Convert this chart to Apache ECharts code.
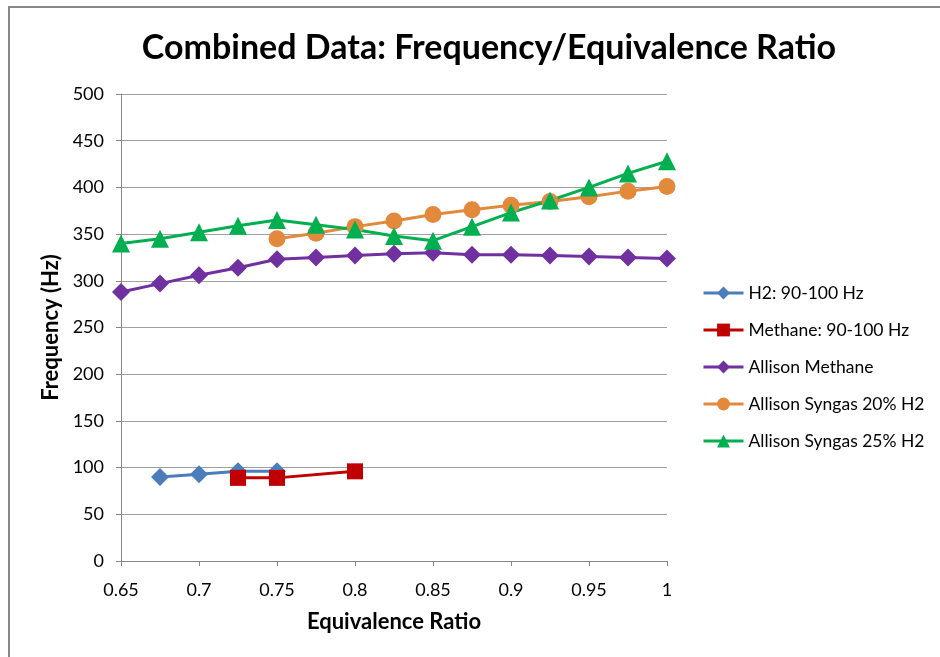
<!DOCTYPE html>
<html>
<head>
<meta charset="utf-8">
<script src="https://cdn.jsdelivr.net/npm/echarts@6/dist/echarts.min.js"></script>
<style>
  html, body { margin: 0; padding: 0; background: #fff; }
  #main { width: 940px; height: 657px; }
</style>
</head>
<body>
<div id="main"></div>
<script>
// data
var h2X = [0.675, 0.7, 0.725, 0.75];
var h2Y = [90, 93, 96, 96];

var methX = [0.725, 0.75, 0.8];
var methY = [89, 89, 96];

var allisonX = [0.65, 0.675, 0.7, 0.725, 0.75, 0.775, 0.8, 0.825, 0.85, 0.875, 0.9, 0.925, 0.95, 0.975, 1];
var allisonMethY = [288, 297, 306, 314, 323, 325, 327, 329, 330, 328, 328, 327, 326, 325, 324];

var syn20X = [0.75, 0.775, 0.8, 0.825, 0.85, 0.875, 0.9, 0.925, 0.95, 0.975, 1];
var syn20Y = [345, 351, 358, 364, 371, 376, 381, 385, 390, 396, 401];

var syn25Y = [340, 345, 352, 359, 365, 360, 355, 348, 343, 358, 373, 386, 400, 415, 428];

var seriesNames = ['H2: 90-100 Hz', 'Methane: 90-100 Hz', 'Allison Methane', 'Allison Syngas 20% H2', 'Allison Syngas 25% H2'];

function pairs(xs, ys) {
    return xs.map(function (x, i) { return [x, ys[i]]; });
}

var font = 'Lato, "Liberation Sans", sans-serif';

function lineSeries(name, data, color, symbol, size) {
    return {
        name: name,
        type: 'line',
        data: data,
        symbol: symbol,
        symbolSize: size,
        lineStyle: { color: color, width: 3 },
        itemStyle: { color: color },
        emphasis: { disabled: true }
    };
}

var chart = echarts.init(document.getElementById('main'));
chart.setOption({
    animation: false,
    backgroundColor: '#fff',
    title: {
        text: 'Combined Data: Frequency/Equivalence Ratio',
        left: 484,
        textAlign: 'center',
        top: 26,
        textStyle: { fontFamily: font, fontSize: 34, fontWeight: 'bold', color: '#000' }
    },
    graphic: [{
        type: 'rect',
        shape: { x: 9, y: 7, width: 1000, height: 1000 },
        style: { fill: 'none', stroke: '#878787', lineWidth: 2 },
        silent: true
    }],
    legend: {
        orient: 'vertical',
        left: 702,
        top: 284,
        padding: 0,
        itemWidth: 40,
        itemHeight: 16,
        itemGap: 19,
        data: seriesNames,
        lineStyle: { width: 3 },
        textStyle: { fontFamily: font, fontSize: 17.5, lineHeight: 18, color: '#000' }
    },
    grid: { left: 121, top: 94, right: 273, bottom: 96 },
    xAxis: {
        type: 'value',
        min: 0.65,
        max: 1,
        interval: 0.05,
        name: 'Equivalence Ratio',
        nameLocation: 'middle',
        nameGap: 50,
        nameTextStyle: { fontFamily: font, fontSize: 22, fontWeight: 'bold', color: '#000' },
        axisLine: { lineStyle: { color: '#868686', width: 1 } },
        axisTick: { show: true, length: 5, lineStyle: { color: '#868686' } },
        axisLabel: { fontFamily: font, fontSize: 18, color: '#000', margin: 20 },
        splitLine: { show: false }
    },
    yAxis: {
        type: 'value',
        min: 0,
        max: 500,
        interval: 50,
        name: 'Frequency (Hz)',
        nameLocation: 'middle',
        nameGap: 55,
        nameTextStyle: { fontFamily: font, fontSize: 22, fontWeight: 'bold', color: '#000' },
        axisLine: { show: true, lineStyle: { color: '#868686', width: 1 } },
        axisTick: { show: true, length: 5, lineStyle: { color: '#868686' } },
        axisLabel: { fontFamily: font, fontSize: 18, color: '#000', margin: 17 },
        splitLine: { lineStyle: { color: '#a0a0a0', width: 1 } }
    },
    series: [
        lineSeries(seriesNames[0], pairs(h2X, h2Y), '#4A7EBB', 'diamond', 18),
        lineSeries(seriesNames[1], pairs(methX, methY), '#C00000', 'rect', 16),
        lineSeries(seriesNames[2], pairs(allisonX, allisonMethY), '#7030A0', 'diamond', 18),
        lineSeries(seriesNames[3], pairs(syn20X, syn20Y), '#E2893C', 'circle', 17),
        lineSeries(seriesNames[4], pairs(allisonX, syn25Y), '#00B050', 'triangle', 18)
    ]
});
</script>
</body>
</html>
